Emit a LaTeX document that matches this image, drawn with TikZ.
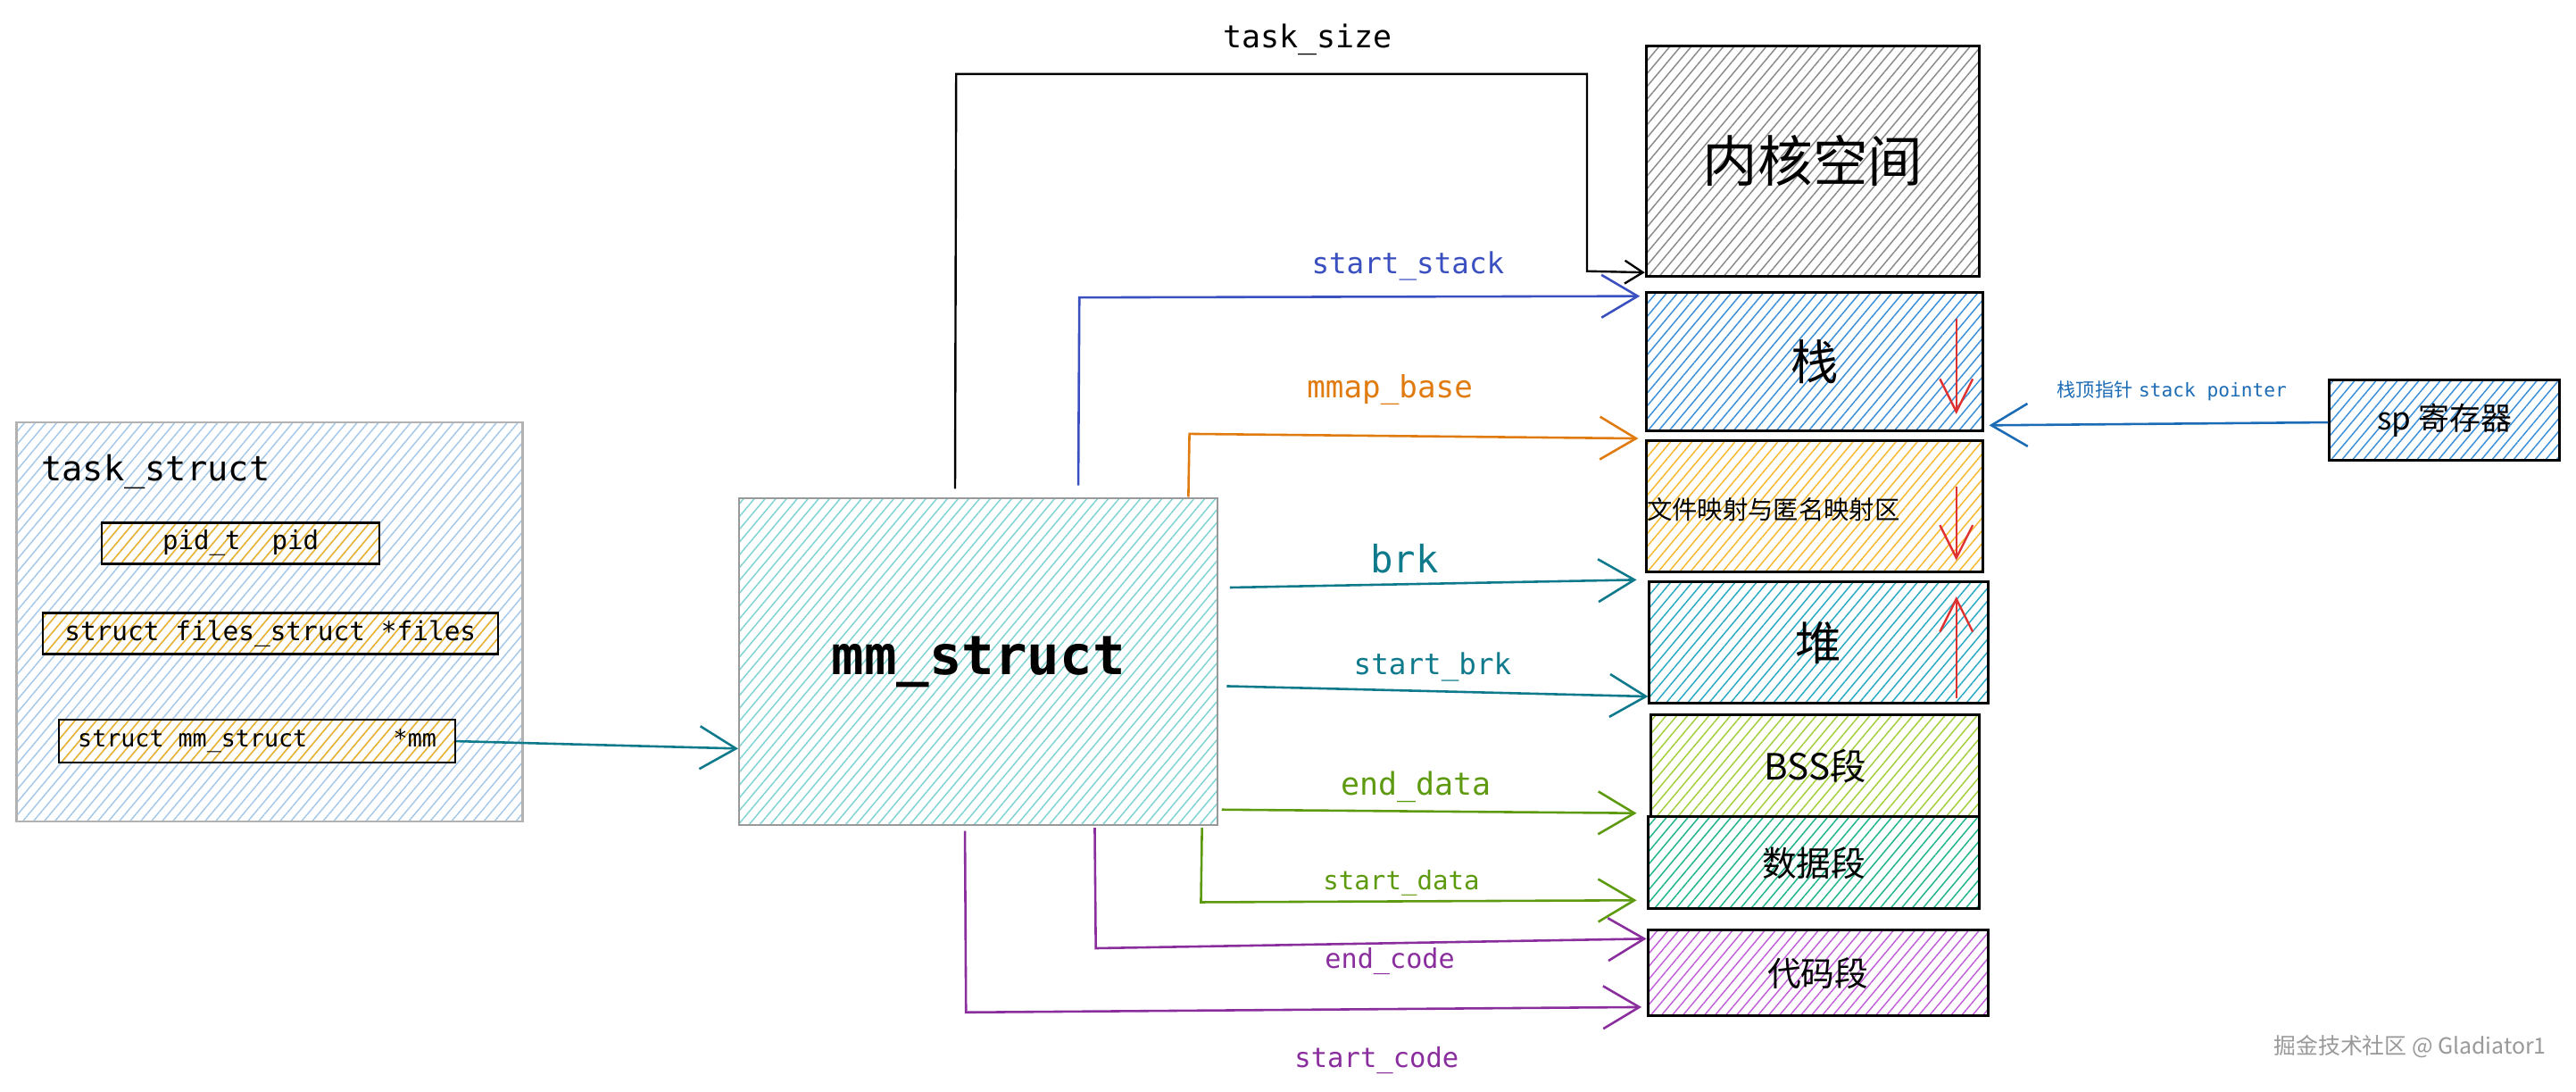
\documentclass[tikz,border=0pt]{standalone}
\usepackage{fontspec}
\setmainfont{DejaVu Sans}
\setmonofont{DejaVu Sans Mono}
\newfontfamily\cjk{Noto Sans CJK SC}
\usetikzlibrary{arrows.meta,patterns.meta,calc}
\definecolor{cBlueL}{HTML}{A5C8E8}
\definecolor{cField}{HTML}{F0B429}
\definecolor{cMM}{HTML}{7FD3D3}
\definecolor{cGray}{HTML}{8A8A8A}
\definecolor{cStack}{HTML}{3B8FD9}
\definecolor{cMmap}{HTML}{F5B82E}
\definecolor{cHeap}{HTML}{2AA9C4}
\definecolor{cBss}{HTML}{A3CF3C}
\definecolor{cData}{HTML}{20B48A}
\definecolor{cCode}{HTML}{C061D8}
\definecolor{lBlue}{HTML}{3B50C0}
\definecolor{lOrange}{HTML}{E07B10}
\definecolor{lTeal}{HTML}{0F7A8C}
\definecolor{lGreen}{HTML}{5E9A10}
\definecolor{lPurple}{HTML}{8A2E9E}
\definecolor{lSp}{HTML}{1C6BB5}
\definecolor{lRed}{HTML}{E03131}
\newcommand{\fsz}[1]{\fontsize{#1}{#1}\selectfont}
\tikzset{
  hatch/.style={pattern={Lines[angle=50,distance=5pt,line width=0.8pt]},pattern color=#1},
  seg/.style={draw=black,line width=1.6pt,inner sep=0pt,hatch=#1},
  field/.style={draw=black,line width=1.3pt,inner sep=0pt,hatch=cField,font=\ttfamily},
  conn/.style={line width=1.4pt,-{Straight Barb[length=22pt,width=26pt,line width=1.4pt]}},
  smallarr/.style={line width=1.3pt,-{Straight Barb[length=11pt,width=14pt,line width=1.3pt]}},
  redarr/.style={lRed,line width=1.3pt,-{Straight Barb[length=20pt,width=20pt,line width=1.3pt]}},
  lbl/.style={font=\ttfamily,inner sep=0pt},
}
\begin{document}
\begin{tikzpicture}[x=1pt,y=-1pt]
\useasboundingbox (0,0) rectangle (1568,664);

% task_struct
\node[draw=black!30,line width=1.3pt,inner sep=0pt,hatch=cBlueL,minimum width=308pt,minimum height=243pt] (task) at (164,378.5) {};
\node[lbl,anchor=west] (tasklbl) at (25,287) {\fsz{21}task\_struct};
\node[field,minimum width=169pt,minimum height=25pt] (pid) at (146.5,330.5) {\fsz{15.8}pid\_t\ \ pid};
\node[field,minimum width=277pt,minimum height=25pt] (files) at (164.5,385.5) {\fsz{16}struct files\_struct *files};
\node[field,minimum width=241pt,minimum height=26pt] (mmf) at (156.5,451) {\fsz{14.5}struct mm\_struct\ \ \ \ \ \ *mm};

% mm_struct
\node[draw=black!40,line width=1.3pt,inner sep=0pt,hatch=cMM,minimum width=291pt,minimum height=199pt,font=\ttfamily\bfseries\fsz{33}] (mm) at (595.5,402.5) {mm\_struct};

% memory layout
\node[seg=cGray,minimum width=203pt,minimum height=140pt,font=\cjk\fsz{33.5}] (kernel) at (1103.5,98) {内核空间};
\node[seg=cStack,minimum width=205pt,minimum height=84pt,font=\cjk\fsz{29}] (stack) at (1104.5,220) {栈};
\node[seg=cMmap,minimum width=205pt,minimum height=80pt] (mmap) at (1104.5,308) {};
\node[anchor=west,inner sep=0pt,font=\cjk\fsz{15.4}] (mmaptxt) at ([xshift=1pt,yshift=-2pt]mmap.west) {文件映射与匿名映射区};
\node[seg=cHeap,minimum width=206pt,minimum height=74pt,font=\cjk\fsz{28}] (heap) at (1107,391) {堆};
\node[seg=cBss,minimum width=200pt,minimum height=62pt,font=\cjk\fsz{22}] (bss) at (1105,466) {BSS段};
\node[seg=cData,minimum width=202pt,minimum height=56pt,font=\cjk\fsz{21}] (data) at (1104,525) {数据段};
\node[seg=cCode,minimum width=207pt,minimum height=52pt,font=\cjk\fsz{20.5}] (code) at (1106.5,592) {代码段};

% sp register
\node[seg=cStack,minimum width=140pt,minimum height=49pt,font=\cjk\fsz{19}] (sp) at (1488,255.5) {sp\ 寄存器};

% growth arrows
\draw[redarr] ($(stack.east)+(-17,-26)$) -- ($(stack.east)+(-17,32)$);
\draw[redarr] ($(mmap.east)+(-17,-12)$) -- ($(mmap.east)+(-17,33)$);
\draw[redarr] ($(heap.east)+(-20,34)$) -- ($(heap.east)+(-20,-28)$);

% connectors (yshift is measured upwards)
\draw[lTeal,conn] (mmf.east) -- ([yshift=-53pt]mm.west);
\draw[black,smallarr] ([xshift=132pt,yshift=5pt]mm.north west) -- (582,45) -- (966,45) -- (966,165) -- ([yshift=3pt]kernel.south west);
\node[lbl] (tasksize) at (796,24) {\fsz{19}task\_size};
\draw[lBlue,conn] ([xshift=207pt,yshift=7pt]mm.north west) -- (657,181) -- ([yshift=-3pt,xshift=-3pt]stack.north west);
\node[lbl,text=lBlue] (lstack) at (857,162) {\fsz{17.7}start\_stack};
\draw[lOrange,conn] ([xshift=274pt]mm.north west) -- (724,264) -- ([yshift=-4pt,xshift=-4pt]stack.south west);
\node[lbl,text=lOrange] (lmmap) at (846,237) {\fsz{18.6}mmap\_base};
\draw[lTeal,conn] ([yshift=45pt,xshift=7pt]mm.east) -- ([yshift=-4pt,xshift=-5pt]mmap.south west);
\node[lbl,text=lTeal] (lbrk) at (855,340) {\fsz{23}brk};
\draw[lTeal,conn] ([yshift=-15pt,xshift=5pt]mm.east) -- ([yshift=5pt]heap.south west);
\node[lbl,text=lTeal] (lsbrk) at (872,406) {\fsz{17.7}start\_brk};
\draw[lGreen,conn] ([yshift=10pt,xshift=2pt]mm.south east) -- ([yshift=3pt,xshift=-8pt]bss.south west);
\node[lbl,text=lGreen] (ledata) at (862,479) {\fsz{19}end\_data};
\draw[lGreen,conn] ([xshift=-10pt,yshift=-1pt]mm.south east) -- (731,549) -- ([yshift=6pt,xshift=-6pt]data.south west);
\node[lbl,text=lGreen] (lsdata) at (853,537) {\fsz{15.8}start\_data};
\draw[lPurple,conn] ([xshift=217pt,yshift=-1pt]mm.south west) -- (667,577) -- ([yshift=-6pt]code.north west);
\node[lbl,text=lPurple] (lecode) at (846,585) {\fsz{16.4}end\_code};
\draw[lPurple,conn] ([xshift=138pt,yshift=-3pt]mm.south west) -- (588,616) -- ([yshift=6pt,xshift=-3pt]code.south west);
\node[lbl,text=lPurple] (lscode) at (838,645) {\fsz{16.6}start\_code};

% stack pointer
\draw[lSp,conn] ([yshift=-1.5pt]sp.west) -- ([xshift=3pt,yshift=4pt]stack.south east);
\node[inner sep=0pt,text=lSp] (lsp) at (1322,238) {\fsz{11.5}{\cjk 栈顶指针} \ttfamily stack pointer};

% watermark
\node[inner sep=0pt,text=black!40,font=\cjk\fsz{13.5}] (wm) at (1467,637) {掘金技术社区 @ Gladiator1};
\end{tikzpicture}
\end{document}
